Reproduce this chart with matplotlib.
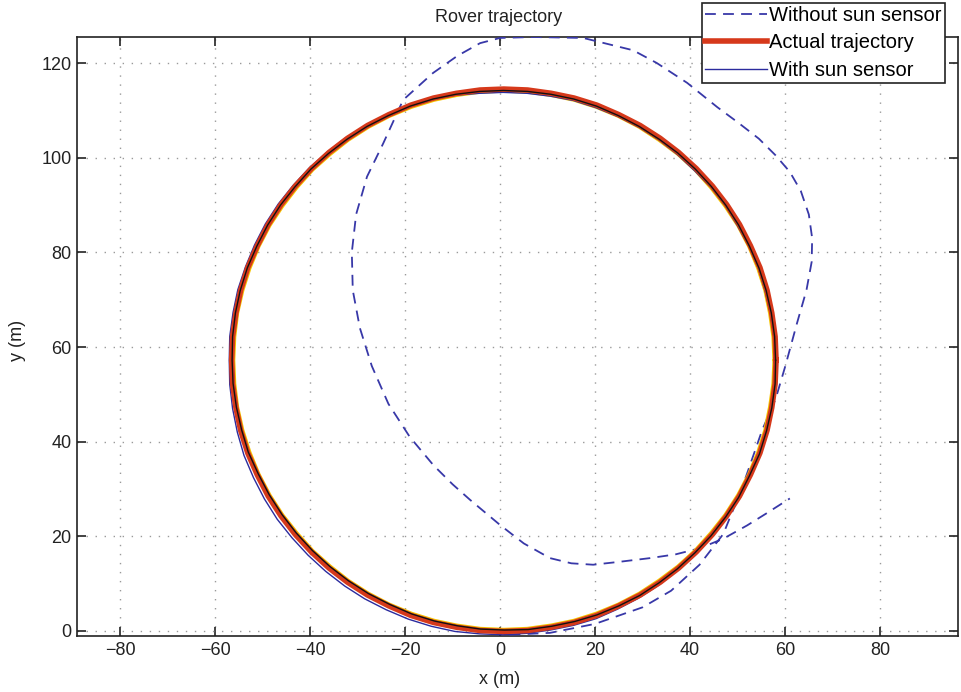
import numpy as np
import matplotlib.pyplot as plt

plt.rcParams['font.family'] = ['Liberation Sans', 'DejaVu Sans']

###########################################################
# data (x, y in metres)

# actual trajectory (thick red)
actual_x = [58.1, 57.9, 57.2, 56.2, 54.7, 52.7, 50.4, 47.7, 44.7, 41.3, 37.6, 33.7, 29.5, 25.0, 20.4, 15.6, 10.8, 5.8, 0.8,
            -4.2, -9.2, -14.0, -18.8, -23.4, -27.9, -32.1, -36.0, -39.7, -43.1, -46.1, -48.8, -51.1, -53.1, -54.6, -55.6, -56.3, -56.5,
            -56.3, -55.6, -54.6, -53.1, -51.1, -48.8, -46.1, -43.1, -39.7, -36.0, -32.1, -27.9, -23.4, -18.8, -14.0, -9.2, -4.2, 0.8,
            5.8, 10.8, 15.6, 20.4, 25.0, 29.5, 33.7, 37.6, 41.3, 44.7, 47.7, 50.4, 52.7, 54.7, 56.2, 57.2, 57.9, 58.1]
actual_y = [57.2, 62.2, 67.2, 72.0, 76.8, 81.4, 85.9, 90.1, 94.0, 97.7, 101.1, 104.1, 106.8, 109.1, 111.1, 112.6, 113.6, 114.3, 114.5,
            114.3, 113.6, 112.6, 111.1, 109.1, 106.8, 104.1, 101.1, 97.7, 94.0, 90.1, 85.9, 81.4, 76.8, 72.0, 67.2, 62.2, 57.2,
            52.2, 47.2, 42.4, 37.6, 33.0, 28.5, 24.3, 20.4, 16.7, 13.3, 10.3, 7.6, 5.3, 3.3, 1.8, 0.8, 0.1, -0.1,
            0.1, 0.8, 1.8, 3.3, 5.3, 7.6, 10.3, 13.3, 16.7, 20.4, 24.3, 28.5, 33.0, 37.6, 42.4, 47.2, 52.2, 57.2]

# with sun sensor (thin blue)
sun_x = [57.8, 57.7, 56.9, 55.8, 54.4, 52.4, 50.0, 47.5, 44.4, 41.0, 37.3, 33.5, 29.3, 24.8, 20.1, 15.4, 10.6, 5.7, 0.6,
         -4.4, -9.4, -14.3, -19.1, -23.7, -28.3, -32.5, -36.5, -40.2, -43.6, -46.7, -49.4, -51.7, -53.6, -55.2, -56.2, -56.9, -57.0,
         -56.9, -56.3, -55.3, -53.9, -51.9, -49.6, -46.9, -43.8, -40.4, -36.7, -32.7, -28.5, -24.0, -19.3, -14.5, -9.5, -4.4, 0.6,
         5.6, 10.6, 15.5, 20.2, 24.7, 29.1, 33.3, 37.1, 40.9, 44.3, 47.4, 50.2, 52.5, 54.6, 56.1, 57.2, 57.8, 57.8]
sun_y = [57.0, 62.1, 67.0, 71.8, 76.5, 81.2, 85.6, 89.7, 93.7, 97.2, 100.7, 103.7, 106.4, 108.7, 110.6, 112.1, 113.0, 113.6, 113.8,
         113.6, 113.2, 112.3, 110.9, 109.0, 106.7, 104.2, 101.1, 97.8, 94.1, 90.2, 86.0, 81.5, 76.9, 72.1, 67.3, 62.2, 57.2,
         52.1, 47.0, 42.0, 37.1, 32.4, 27.9, 23.6, 19.7, 16.0, 12.6, 9.5, 6.8, 4.5, 2.5, 1.0, -0.1, -0.6, -0.8,
         -0.5, 0.2, 1.2, 2.6, 4.6, 6.9, 9.6, 12.6, 16.1, 19.9, 23.9, 28.1, 32.8, 37.4, 42.3, 47.0, 52.1, 57.0]

# unlabelled black run
black_x = [58.0, 57.8, 57.1, 56.0, 54.5, 52.5, 50.2, 47.5, 44.5, 41.1, 37.4, 33.5, 29.3, 24.9, 20.3, 15.5, 10.7, 5.8, 0.7,
           -4.3, -9.3, -14.1, -18.9, -23.5, -28.0, -32.2, -36.1, -39.8, -43.2, -46.2, -48.9, -51.2, -53.2, -54.7, -55.7, -56.3, -56.4,
           -56.2, -55.5, -54.4, -53.0, -50.9, -48.6, -45.9, -42.9, -39.5, -35.8, -31.9, -27.7, -23.2, -18.6, -13.8, -9.0, -4.1, 0.9,
           5.9, 10.9, 15.7, 20.4, 25.0, 29.4, 33.5, 37.3, 41.0, 44.4, 47.5, 50.2, 52.5, 54.6, 56.1, 57.2, 57.9, 58.0]
black_y = [57.2, 62.2, 67.2, 72.0, 76.7, 81.3, 85.8, 90.0, 93.9, 97.6, 101.0, 103.9, 106.6, 108.9, 110.9, 112.4, 113.4, 114.0, 114.2,
           114.0, 113.4, 112.4, 110.9, 108.9, 106.6, 103.9, 100.9, 97.6, 93.8, 90.0, 85.8, 81.3, 76.7, 71.9, 67.2, 62.2, 57.2,
           52.3, 47.3, 42.5, 37.8, 33.2, 28.8, 24.6, 20.7, 17.0, 13.6, 10.6, 7.9, 5.6, 3.6, 2.1, 1.1, 0.4, 0.2,
           0.3, 1.0, 2.0, 3.4, 5.3, 7.5, 10.2, 13.1, 16.5, 20.1, 24.1, 28.2, 32.8, 37.4, 42.3, 47.1, 52.2, 57.2]

# unlabelled yellow run
yellow_x = [57.5, 57.3, 56.6, 55.6, 54.1, 52.2, 49.9, 47.2, 44.2, 40.9, 37.3, 33.3, 29.2, 24.8, 20.2, 15.5, 10.7, 5.7, 0.8,
            -4.1, -9.1, -13.8, -18.6, -23.2, -27.6, -31.8, -35.6, -39.3, -42.6, -45.6, -48.3, -50.6, -52.5, -54.0, -55.1, -55.7, -55.9,
            -55.7, -55.1, -54.0, -52.5, -50.6, -48.3, -45.6, -42.6, -39.3, -35.6, -31.8, -27.6, -23.2, -18.6, -13.8, -9.1, -4.1, 0.8,
            5.7, 10.7, 15.5, 20.2, 24.8, 29.2, 33.3, 37.3, 40.9, 44.2, 47.2, 49.9, 52.2, 54.1, 55.6, 56.6, 57.3, 57.5]
yellow_y = [57.2, 62.1, 67.1, 71.9, 76.6, 81.2, 85.6, 89.7, 93.6, 97.3, 100.6, 103.6, 106.3, 108.6, 110.5, 112.0, 113.0, 113.7, 113.9,
            113.7, 113.0, 112.0, 110.5, 108.6, 106.3, 103.6, 100.6, 97.3, 93.6, 89.7, 85.6, 81.2, 76.6, 71.9, 67.1, 62.1, 57.2,
            52.3, 47.4, 42.5, 37.8, 33.2, 28.8, 24.6, 20.8, 17.1, 13.8, 10.8, 8.1, 5.8, 3.9, 2.4, 1.4, 0.7, 0.5,
            0.7, 1.4, 2.4, 3.9, 5.8, 8.1, 10.8, 13.8, 17.1, 20.8, 24.6, 28.8, 33.2, 37.8, 42.5, 47.4, 52.3, 57.2]

# without sun sensor (dashed blue)
nosun_x = [2.0, 10.5, 20.0, 30.0, 36.0, 42.0, 47.0, 51.0, 55.2, 58.0, 60.0, 62.5, 64.5, 65.6, 65.7, 65.0, 63.3, 61.0, 58.0, 54.5,
           50.0, 45.7, 39.4, 33.0, 28.0, 17.5, 7.0, 0.0, -4.2, -9.0, -14.1, -20.4, -24.6, -28.0, -30.3, -31.2, -31.0, -29.5, -27.0,
           -23.5, -19.0, -14.0, -10.0, -6.3, 0.0, 5.0, 10.5, 15.0, 19.6, 25.0, 31.6, 37.0, 42.1, 47.0, 52.0, 56.0, 61.0]
nosun_y = [-0.8, -0.4, 1.5, 5.0, 8.5, 14.0, 20.5, 30.4, 42.5, 49.0, 55.8, 65.0, 72.0, 78.0, 83.0, 88.0, 93.0, 97.0, 100.5, 104.0,
           107.5, 110.7, 115.8, 120.0, 122.7, 125.3, 125.5, 125.3, 124.2, 121.5, 117.9, 112.2, 103.0, 96.0, 88.0, 80.0, 72.0, 64.0,
           56.0, 48.0, 41.0, 35.0, 31.0, 27.7, 22.4, 18.5, 15.4, 14.3, 14.0, 14.6, 15.4, 16.2, 17.5, 19.5, 22.3, 24.8, 28.0]

###########################################################
# plot

fig = plt.figure(figsize=(9.61, 6.92), dpi=100)
ax = fig.add_axes([77/961, 56/692, 881/961, 599/692])

h_nosun, = ax.plot(nosun_x, nosun_y, color='#3838a8', lw=1.3, dashes=(6, 4), zorder=3)
ax.plot(yellow_x, yellow_y, color='#f5c400', lw=1.2, zorder=3)
h_actual, = ax.plot(actual_x, actual_y, color='#d6391b', lw=4.0, zorder=4, solid_joinstyle='round')
h_sun, = ax.plot(sun_x, sun_y, color='#2b2b9e', lw=1.0, zorder=3.5)
ax.plot(black_x, black_y, color='#111111', lw=1.0, zorder=5)

ax.set_xlim(-89.05, 96.4)
ax.set_ylim(-1.06, 125.5)
ax.set_xticks([-80, -60, -40, -20, 0, 20, 40, 60, 80])
ax.set_yticks([0, 20, 40, 60, 80, 100, 120])
ax.set_xticklabels(['\u221280', '\u221260', '\u221240', '\u221220', '0', '20', '40', '60', '80'])

ax.grid(True, color='#9a9a9a', linestyle=(0, (1, 5.5)), lw=1.0)
ax.set_axisbelow(True)
ax.tick_params(direction='in', length=6.5, width=1.2, top=True, right=True,
               labelsize=13, colors='#222222', pad=4)
for sp in ax.spines.values():
    sp.set_linewidth(1.2)
    sp.set_color('#222222')

# labels
fig.text(499/961, 1 - 18/692, 'Rover trajectory', ha='center', va='center', fontsize=13, color='#222222')
fig.text(500/961, 1 - 680/692, 'x (m)', ha='center', va='center', fontsize=13, color='#222222')
fig.text(17/961, 1 - 340/692, 'y (m)', ha='center', va='center', rotation=90, fontsize=13, color='#222222')

leg = fig.legend([h_nosun, h_actual, h_sun], ['Without sun sensor', 'Actual trajectory', 'With sun sensor'],
                 loc='upper right', bbox_to_anchor=(945/961, 1 - 3/692), fontsize=14.5,
                 handlelength=3.1, handletextpad=0.1, labelspacing=0.42, borderpad=0.15,
                 borderaxespad=0, fancybox=False, framealpha=1, edgecolor='#222222')
leg.get_frame().set_linewidth(1.2)

plt.savefig('out.png', dpi=100)
